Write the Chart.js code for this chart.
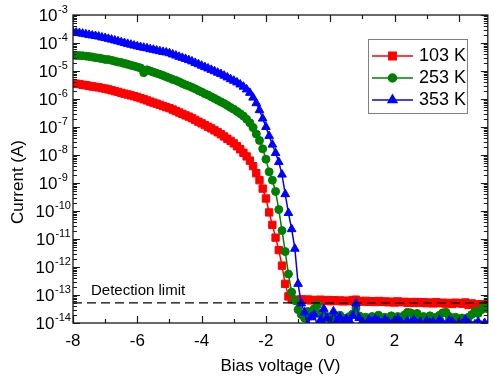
<!DOCTYPE html>
<html>
<head>
<meta charset="utf-8">
<script src="https://cdn.jsdelivr.net/npm/chart.js@4.4.1/dist/chart.umd.min.js"></script>
<style>
html,body{margin:0;padding:0;background:#fff;}
#wrap{width:494px;height:380px;position:relative;}
</style>
</head>
<body>
<div id="wrap"><canvas id="c" width="494" height="380"></canvas></div>
<script>
// ---------------- data ----------------
const voltage = [
  -8,-7.9,-7.8,-7.7,-7.6,-7.5,-7.4,-7.3,-7.2,-7.1,
  -7,-6.9,-6.8,-6.7,-6.6,-6.5,-6.4,-6.3,-6.2,-6.1,
  -6,-5.9,-5.8,-5.7,-5.6,-5.5,-5.4,-5.3,-5.2,-5.1,
  -5,-4.9,-4.8,-4.7,-4.6,-4.5,-4.4,-4.3,-4.2,-4.1,
  -4,-3.9,-3.8,-3.7,-3.6,-3.5,-3.4,-3.3,-3.2,-3.1,
  -3,-2.9,-2.8,-2.7,-2.6,-2.5,-2.4,-2.3,-2.2,-2.1,
  -2,-1.9,-1.8,-1.7,-1.6,-1.5,-1.4,-1.3,-1.2,-1.1,
  -1,-0.9,-0.8,-0.7,-0.6,-0.5,-0.4,-0.3,-0.2,-0.1,
  0,0.1,0.2,0.3,0.4,0.5,0.6,0.7,0.8,0.9,
  1,1.1,1.2,1.3,1.4,1.5,1.6,1.7,1.8,1.9,
  2,2.1,2.2,2.3,2.4,2.5,2.6,2.7,2.8,2.9,
  3,3.1,3.2,3.3,3.4,3.5,3.6,3.7,3.8,3.9,
  4,4.1,4.2,4.3,4.4,4.5,4.6,4.7,4.8,4.9
];
const current103K = [
  3.7e-6,3.5e-6,3.4e-6,3.2e-6,3.1e-6,2.95e-6,2.8e-6,2.7e-6,2.6e-6,2.45e-6,
  2.35e-6,2.2e-6,2.05e-6,1.9e-6,1.8e-6,1.65e-6,1.55e-6,1.45e-6,1.35e-6,1.26e-6,
  1.17e-6,1.07e-6,9.8e-7,8.9e-7,8.1e-7,7.4e-7,6.8e-7,6.2e-7,5.6e-7,5.1e-7,
  4.7e-7,4.2e-7,3.7e-7,3.3e-7,2.95e-7,2.6e-7,2.35e-7,2.05e-7,1.8e-7,1.55e-7,
  1.35e-7,1.17e-7,1.02e-7,8.9e-8,7.6e-8,6.5e-8,5.5e-8,4.6e-8,3.8e-8,3.2e-8,
  2.6e-8,2.05e-8,1.6e-8,1.2e-8,8.9e-9,6.3e-9,4.0e-9,2.24e-9,1.26e-9,6.3e-10,
  2.8e-10,8.9e-11,3.2e-11,1.12e-11,4.0e-12,1.12e-12,2.5e-13,8.9e-14,7.1e-14,6.8e-14,
  6.5e-14,7.0e-14,6.6e-14,6.9e-14,6.4e-14,6.7e-14,6.3e-14,6.8e-14,6.2e-14,6.6e-14,
  6.0e-14,6.5e-14,6.1e-14,6.4e-14,5.9e-14,6.3e-14,6.0e-14,6.6e-14,6.8e-14,6.1e-14,
  5.8e-14,6.2e-14,5.7e-14,6.0e-14,5.6e-14,6.1e-14,5.7e-14,5.9e-14,5.5e-14,5.8e-14,
  5.4e-14,5.9e-14,5.5e-14,5.7e-14,5.3e-14,5.6e-14,5.2e-14,5.6e-14,5.3e-14,5.5e-14,
  5.1e-14,5.4e-14,5.0e-14,5.5e-14,5.1e-14,5.3e-14,4.9e-14,5.2e-14,4.8e-14,5.3e-14,
  5.1e-14,4.9e-14,5.4e-14,4.4e-14,5.0e-14,4.6e-14,4.2e-14,4.7e-14,4.3e-14,4.8e-14
];
const current253K = [
  3.7e-5,3.6e-5,3.55e-5,3.5e-5,3.4e-5,3.3e-5,3.16e-5,3.0e-5,2.9e-5,2.75e-5,
  2.6e-5,2.55e-5,2.4e-5,2.25e-5,2.1e-5,2.0e-5,1.85e-5,1.75e-5,1.6e-5,1.5e-5,
  1.38e-5,1.29e-5,8.7e-6,1.1e-5,1.0e-5,9.1e-6,8.3e-6,7.6e-6,6.9e-6,6.2e-6,
  5.6e-6,5.0e-6,4.6e-6,4.1e-6,3.6e-6,3.2e-6,2.9e-6,2.6e-6,2.3e-6,2.0e-6,
  1.78e-6,1.55e-6,1.38e-6,1.2e-6,1.05e-6,9.1e-7,7.9e-7,6.9e-7,5.9e-7,5.0e-7,
  4.3e-7,3.6e-7,3.0e-7,2.45e-7,1.9e-7,1.41e-7,9.5e-8,5.6e-8,3.3e-8,1.66e-8,
  7.1e-9,2.5e-9,1.26e-9,5.0e-10,1.12e-10,2.0e-11,3.55e-12,5.6e-13,1.26e-13,6.3e-14,
  3.0e-14,2.0e-14,1.5e-14,2.6e-14,1.8e-14,3.2e-14,4.5e-14,2.2e-14,1.4e-14,1.7e-14,
  1.3e-14,1.6e-14,1.4e-14,1.9e-14,1.5e-14,1.3e-14,1.7e-14,2.1e-14,3.4e-14,1.8e-14,
  1.4e-14,1.6e-14,1.3e-14,1.7e-14,1.5e-14,1.9e-14,1.4e-14,1.6e-14,1.3e-14,1.8e-14,
  1.5e-14,1.7e-14,1.4e-14,1.9e-14,2.4e-14,2.3e-14,1.6e-14,2.2e-14,1.5e-14,1.7e-14,
  1.4e-14,1.8e-14,1.5e-14,1.6e-14,1.9e-14,2.3e-14,2.4e-14,1.7e-14,1.4e-14,1.6e-14,
  1.3e-14,1.5e-14,1.2e-14,1.6e-14,2.0e-14,2.6e-14,2.2e-14,3.0e-14,4.3e-14,3.2e-14
];
const current353K = [
  2.45e-4,2.35e-4,2.25e-4,2.15e-4,2.05e-4,1.95e-4,1.86e-4,1.78e-4,1.7e-4,1.58e-4,
  1.51e-4,1.41e-4,1.32e-4,1.23e-4,1.15e-4,1.07e-4,1.0e-4,9.3e-5,8.7e-5,8.1e-5,
  7.6e-5,7.2e-5,6.8e-5,6.5e-5,6.0e-5,5.75e-5,5.4e-5,5.1e-5,4.8e-5,4.6e-5,
  4.3e-5,3.9e-5,3.55e-5,3.2e-5,2.95e-5,2.7e-5,2.45e-5,2.2e-5,1.95e-5,1.74e-5,
  1.55e-5,1.38e-5,1.23e-5,1.1e-5,9.8e-6,8.7e-6,7.8e-6,6.8e-6,5.9e-6,5.1e-6,
  4.5e-6,3.9e-6,3.3e-6,2.75e-6,2.2e-6,1.66e-6,1.12e-6,7.1e-7,4.0e-7,2.0e-7,
  1.0e-7,4.8e-8,2.35e-8,1.17e-8,5.6e-9,2.0e-9,4.0e-10,8.5e-11,2.25e-11,4.5e-12,
  2.5e-13,5.0e-14,2.4e-14,9e-15,1.6e-14,2.0e-14,8e-15,1.3e-14,3.2e-14,1.5e-14,
  7e-15,2.6e-14,1.2e-14,1.6e-14,1.1e-14,1.4e-14,1.2e-14,1.8e-14,5.0e-14,1.5e-14,
  1.1e-14,8e-15,1.3e-14,1.1e-14,1.4e-14,1.2e-14,1.0e-14,1.3e-14,1.1e-14,9e-15,
  1.2e-14,1.4e-14,1.1e-14,8e-15,1.2e-14,1.0e-14,1.3e-14,9e-15,1.1e-14,7e-15,
  1.2e-14,1.0e-14,1.1e-14,8e-15,1.3e-14,1.0e-14,9e-15,1.2e-14,1.1e-14,8e-15,
  1.0e-14,9e-15,1.3e-14,1.0e-14,8e-15,9e-15,1.1e-14,8e-15,1.0e-14,9e-15
];
const seriesNames = ['103 K', '253 K', '353 K'];
const xMajorTicks = [-8, -6, -4, -2, 0, 2, 4];
const xMinorTicks = [-7, -5, -3, -1, 1, 3];
const yDecades = [-14, -13, -12, -11, -10, -9, -8, -7, -6, -5, -4, -3];
const yMinorMantissas = [2, 3, 4, 5, 6, 7, 8, 9];
const detectionLimit = 5.2e-14;
const detectionLabel = 'Detection limit';
const xTitle = 'Bias voltage (V)';
const yTitle = 'Current (A)';

// ---------------- chart ----------------
const FONT = '"Liberation Sans", Arial, Helvetica, sans-serif';
const styles = [
  {color: '#ff0000', marker: 'rect', radius: 5.2},
  {color: '#008000', marker: 'circle', radius: 4},
  {color: '#0000ff', marker: 'triangle', radius: 5}
];
const seriesValues = [current103K, current253K, current353K];

const datasets = seriesNames.map((name, i) => ({
  label: name,
  data: voltage.map((v, k) => ({x: v, y: seriesValues[i][k]})),
  borderColor: styles[i].color,
  backgroundColor: styles[i].color,
  pointBackgroundColor: styles[i].color,
  pointBorderColor: styles[i].color,
  pointBorderWidth: 1,
  pointStyle: styles[i].marker,
  pointRadius: styles[i].radius,
  borderWidth: 1.5,
  tension: 0,
  clip: 0,
  order: 3 - i
}));

const decor = {
  id: 'decor',
  afterDatasetsDraw(chart) {
    const {ctx, chartArea: a, scales: {x, y}} = chart;
    ctx.save();
    // detection limit
    const yd = y.getPixelForValue(detectionLimit);
    ctx.strokeStyle = '#000';
    ctx.lineWidth = 1.3;
    ctx.setLineDash([9, 5]);
    ctx.beginPath();
    ctx.moveTo(a.left, yd);
    ctx.lineTo(a.right, yd);
    ctx.stroke();
    ctx.setLineDash([]);
    ctx.fillStyle = '#000';
    ctx.font = '15px ' + FONT;
    ctx.textAlign = 'left';
    ctx.textBaseline = 'alphabetic';
    ctx.fillText(detectionLabel, a.left + 18, yd - 8);

    // frame
    ctx.strokeStyle = '#1a1a1a';
    ctx.lineWidth = 1.3;
    ctx.strokeRect(a.left, a.top, a.right - a.left, a.bottom - a.top);

    // x ticks (inward, bottom and top)
    ctx.lineWidth = 1.2;
    ctx.beginPath();
    xMajorTicks.forEach(v => {
      const px = Math.round(x.getPixelForValue(v)) + 0.5;
      ctx.moveTo(px, a.bottom); ctx.lineTo(px, a.bottom - 7);
      ctx.moveTo(px, a.top); ctx.lineTo(px, a.top + 7);
    });
    xMinorTicks.forEach(v => {
      const px = Math.round(x.getPixelForValue(v)) + 0.5;
      ctx.moveTo(px, a.bottom); ctx.lineTo(px, a.bottom - 4);
      ctx.moveTo(px, a.top); ctx.lineTo(px, a.top + 4);
    });
    // y ticks (inward, left and right)
    yDecades.forEach(e => {
      const py = Math.round(y.getPixelForValue(Math.pow(10, e))) + 0.5;
      ctx.moveTo(a.left, py); ctx.lineTo(a.left + 7, py);
      ctx.moveTo(a.right, py); ctx.lineTo(a.right - 7, py);
      if (e < -3) {
        yMinorMantissas.forEach(m => {
          const pm = Math.round(y.getPixelForValue(m * Math.pow(10, e))) + 0.5;
          ctx.moveTo(a.left, pm); ctx.lineTo(a.left + 4, pm);
          ctx.moveTo(a.right, pm); ctx.lineTo(a.right - 4, pm);
        });
      }
    });
    ctx.stroke();
    ctx.restore();
  },
  afterDraw(chart) {
    const {ctx, chartArea: a, scales: {y}} = chart;
    ctx.save();
    ctx.fillStyle = '#000';
    // y tick labels with superscripts
    yDecades.forEach(e => {
      const py = y.getPixelForValue(Math.pow(10, e));
      const base = '10', sup = String(e);
      ctx.font = '17px ' + FONT;
      const wb = ctx.measureText(base).width;
      ctx.font = '11px ' + FONT;
      const ws = ctx.measureText(sup).width;
      const start = 53 - (wb + ws) / 2;
      ctx.textAlign = 'left';
      ctx.textBaseline = 'middle';
      ctx.font = '17px ' + FONT;
      ctx.fillText(base, start, py + 1.5);
      ctx.font = '11px ' + FONT;
      ctx.fillText(sup, start + wb + 0.5, py - 5.5);
    });
    // y title
    ctx.save();
    ctx.translate(18, 182);
    ctx.rotate(-Math.PI / 2);
    ctx.font = '17px ' + FONT;
    ctx.textAlign = 'center';
    ctx.textBaseline = 'middle';
    ctx.fillText(yTitle, 0, 0);
    ctx.restore();

    // legend
    const L = 368, T = 39, R = 467, B = 113;
    ctx.fillStyle = '#fff';
    ctx.fillRect(L, T, R - L, B - T);
    ctx.strokeStyle = '#808080';
    ctx.lineWidth = 1;
    ctx.strokeRect(L + 0.5, T + 0.5, R - L, B - T);
    const rows = [56, 78, 100];
    seriesNames.forEach((name, i) => {
      const ry = rows[i];
      const st = styles[i];
      ctx.strokeStyle = st.color;
      ctx.lineWidth = 1.5;
      ctx.beginPath();
      ctx.moveTo(372, ry); ctx.lineTo(413, ry);
      ctx.stroke();
      ctx.fillStyle = st.color;
      Chart.helpers.drawPoint(ctx, {pointStyle: st.marker, radius: st.radius, rotation: 0, borderWidth: 1}, 392.5, ry);
      ctx.fillStyle = '#000';
      ctx.font = '18px ' + FONT;
      ctx.textAlign = 'left';
      ctx.textBaseline = 'middle';
      ctx.fillText(name, 419, ry + 0.5);
    });
    ctx.restore();
  }
};

new Chart(document.getElementById('c'), {
  type: 'line',
  data: {datasets},
  options: {
    responsive: false,
    devicePixelRatio: 1,
    animation: false,
    events: [],
    layout: {padding: {top: 15, right: 3, left: 0, bottom: 0}},
    plugins: {legend: {display: false}, tooltip: {enabled: false}},
    scales: {
      x: {
        type: 'linear',
        min: -8,
        max: 4.9,
        grid: {display: false, drawTicks: false},
        border: {display: false},
        ticks: {
          stepSize: 1,
          includeBounds: false,
          autoSkip: false,
          maxRotation: 0,
          padding: 8,
          color: '#000',
          font: {family: FONT, size: 17},
          callback: (v) => (xMajorTicks.includes(v) ? String(v) : '')
        },
        title: {
          display: true,
          text: xTitle,
          color: '#000',
          font: {family: FONT, size: 17},
          padding: {top: 0, bottom: 3}
        },
        afterFit: (s) => { s.height = 57; }
      },
      y: {
        type: 'logarithmic',
        min: 1e-14,
        max: 1e-3,
        grid: {display: false, drawTicks: false},
        border: {display: false},
        ticks: {display: false},
        afterFit: (s) => { s.width = 73; }
      }
    }
  },
  plugins: [decor]
});
</script>
</body>
</html>
